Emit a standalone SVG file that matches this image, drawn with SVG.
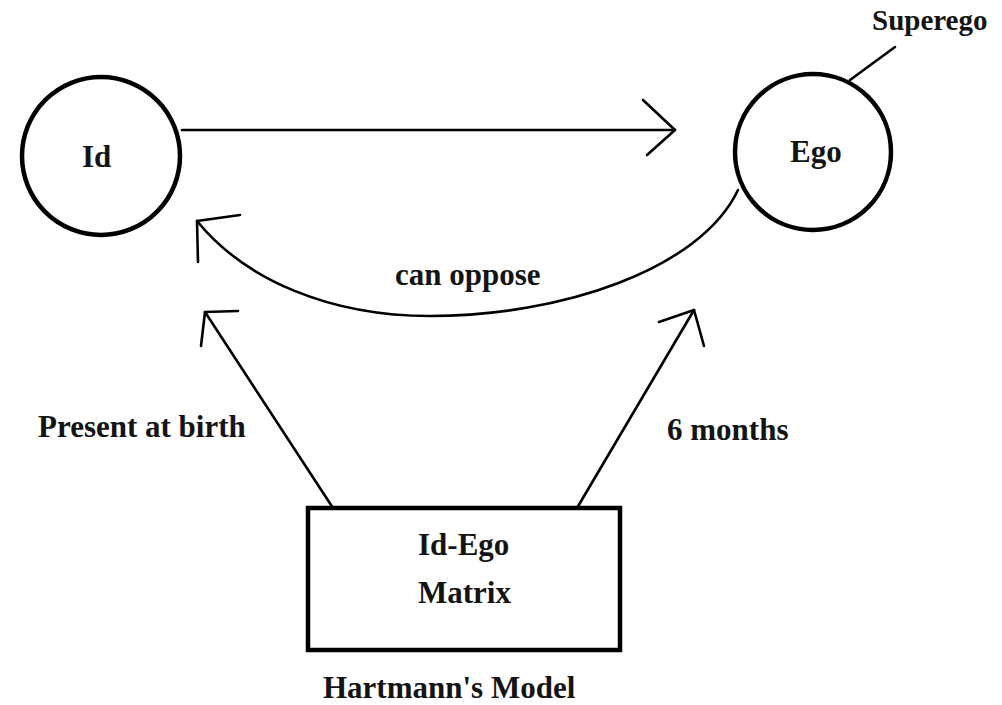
<svg xmlns="http://www.w3.org/2000/svg" width="1002" height="705" viewBox="0 0 1002 705">
<style>
.t{font-family:"Liberation Serif","Times New Roman",serif;font-weight:bold;font-size:31px;fill:#141414}
.n{fill:#fff;stroke:#000;stroke-width:4.5}
.c{fill:none;stroke:#000;stroke-width:2.6;stroke-linecap:round;stroke-linejoin:round}
</style>
<rect width="1002" height="705" fill="#fff"/>
<g id="id-node">
<circle class="n" cx="101" cy="156" r="79"/>
<text class="t" x="82" y="167">Id</text>
</g>
<g id="ego-node">
<circle class="n" cx="813" cy="152" r="78"/>
<text class="t" x="790" y="162">Ego</text>
</g>
<g id="superego-label">
<line class="c" x1="850" y1="80" x2="895" y2="47"/>
<text class="t" x="872" y="30" font-size="29" style="font-size:29px">Superego</text>
</g>
<g id="matrix-node">
<rect class="n" x="308" y="508" width="312" height="142" stroke-width="5"/>
<text class="t" x="418" y="555">Id-Ego</text>
<text class="t" x="418" y="603">Matrix</text>
</g>
<g id="connectors">
<line class="c" x1="182" y1="130" x2="675" y2="130"/>
<polyline class="c" points="643,100 675,130 647,155"/>
<path class="c" d="M738,190 C700,270 560,316 430,316 C330,316 245,280 197,221"/>
<polyline class="c" points="240,215 197,221 198,262"/>
<line class="c" x1="333" y1="508" x2="205" y2="312"/>
<polyline class="c" points="238,311 205,312 201,346"/>
<line class="c" x1="577" y1="508" x2="694" y2="310"/>
<polyline class="c" points="659,322 694,310 704,346"/>
</g>
<g id="labels">
<text class="t" x="395" y="285">can oppose</text>
<text class="t" x="38" y="437">Present at birth</text>
<text class="t" x="667" y="440">6 months</text>
<text class="t" x="323" y="698">Hartmann's Model</text>
</g>
</svg>
